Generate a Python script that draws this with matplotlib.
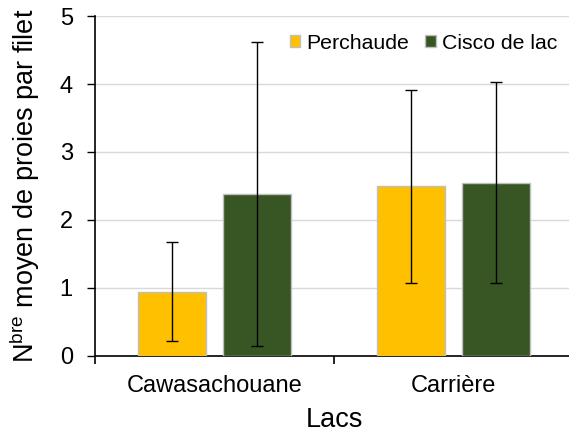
import matplotlib.pyplot as plt
import numpy as np

plt.rcParams['font.family'] = ['Liberation Sans', 'DejaVu Sans']

lacs = ["Cawasachouane", "Carrière"]
series = ["Perchaude", "Cisco de lac"]
moyennes = [[0.94, 2.50], [2.38, 2.54]]
err_bas = [[0.72, 1.43], [2.23, 1.47]]
err_haut = [[0.74, 1.41], [2.24, 1.49]]
couleurs = ["#FFC000", "#375623"]

fig = plt.figure(figsize=(5.69, 4.34), dpi=100)
ax = fig.add_axes([0.167, 0.180, 0.84, 0.783])

x = np.arange(len(lacs))
w = 0.285
offsets = [-0.178, 0.178]
for i, nom in enumerate(series):
    ax.bar(x + offsets[i], moyennes[i], w, color=couleurs[i], edgecolor="#BFBFBF",
           linewidth=1, label=nom, zorder=3)
    ax.errorbar(x + offsets[i], moyennes[i], yerr=[err_bas[i], err_haut[i]], fmt="none",
                ecolor="black", elinewidth=1, capsize=4.3, capthick=1, zorder=4)

ax.set_xlim(-0.5, 1.5)
ax.set_ylim(0, 5)
ax.set_yticks([0, 1, 2, 3, 4, 5])
ax.yaxis.grid(True, color="#D9D9D9", linewidth=1, zorder=0)
ax.set_axisbelow(True)

ax.set_xticks([-0.5, 0.5, 1.5])
ax.set_xticklabels([])
ax.set_xticks(x, minor=True)
ax.set_xticklabels(lacs, minor=True)
ax.tick_params(axis="x", which="minor", length=0, pad=14, labelsize=17)
ax.tick_params(axis="x", which="major", length=6, width=1.2, direction="out")
ax.tick_params(axis="y", length=6, width=1, labelsize=17, pad=10)

for s in ["top", "right"]:
    ax.spines[s].set_visible(False)
ax.spines["left"].set_linewidth(1.2)
ax.spines["bottom"].set_linewidth(1.2)

ax.set_xlabel("Lacs", fontsize=19.5, labelpad=7)
ax.set_ylabel(r"N$^{\mathregular{bre}}$ moyen de proies par filet", fontsize=19.5, labelpad=13)

ax.legend(loc="upper right", bbox_to_anchor=(0.995, 0.985), ncol=2, frameon=False, fontsize=15.3,
          handlelength=0.5, handleheight=0.5, handletextpad=0.3, columnspacing=0.75,
          borderaxespad=0.2)

fig.savefig("out.png", dpi=100)
